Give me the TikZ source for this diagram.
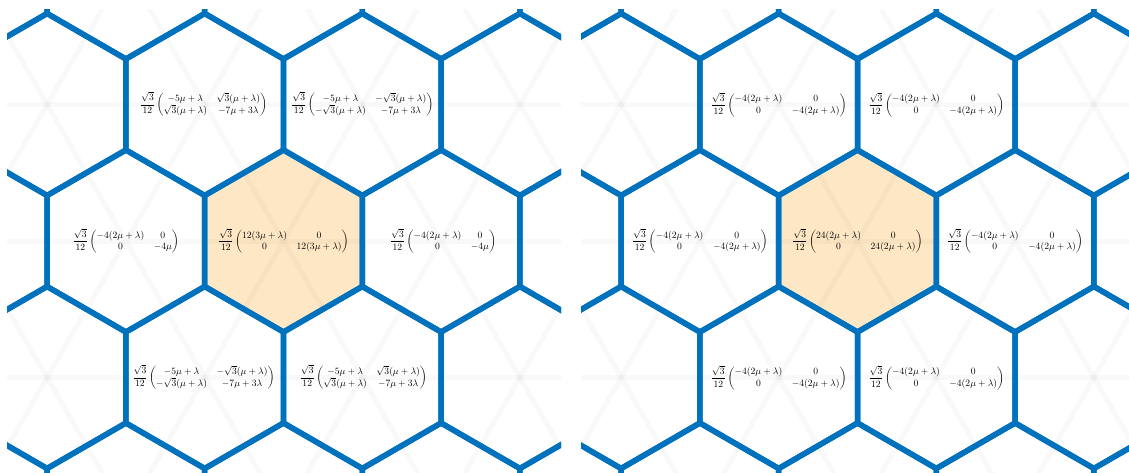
\documentclass[tikz,border=0pt]{standalone}
\usepackage{amsmath}
\definecolor{hexblue}{RGB}{0,114,189}
\definecolor{hexfill}{RGB}{253,231,196}
\newcommand{\Pre}{\dfrac{\sqrt{3}}{12}}
\newcommand{\DrawPanel}[1]{%
\begin{scope}[xshift=#1pt]
\clip (7,10) rectangle (561,480);
\fill[hexfill] (283.5,241) +(30:91) -- +(90:91) -- +(150:91) -- +(210:91) -- +(270:91) -- +(330:91) -- cycle;
\foreach \k in {-2,...,2}{\draw[faint] (0,241+136.5*\k) -- (570,241+136.5*\k);}
\foreach \i in {-4,...,4}{\draw[faint] (283.5+157.6*\i,241) +(-236.4,-409.5) -- +(236.4,409.5) +(236.4,-409.5) -- +(-236.4,409.5);}
\foreach \j in {-2,...,2}{\foreach \i in {-3,...,3}{%
  \pgfmathsetmacro\hx{283.5+157.6*\i+78.8*mod(abs(\j),2)}%
  \pgfmathsetmacro\hy{241+136.5*\j}%
  \draw[hexedge] (\hx,\hy) +(30:91) -- +(90:91) -- +(150:91) -- +(210:91) -- +(270:91) -- +(330:91) -- cycle;
}}
\end{scope}}
\begin{document}
\begin{tikzpicture}[x=1pt,y=-1pt,
  hexedge/.style={draw=hexblue,line width=5.5pt,line join=miter},
  faint/.style={draw=black,opacity=0.022,line width=5pt},
  lbl/.style={inner sep=0pt,scale=0.96}]
\useasboundingbox (0,0) rectangle (1129,473);
\DrawPanel{0}
\DrawPanel{574}
% left panel labels
\node[lbl] (Lc) at (283.5,241) {$\Pre\begin{pmatrix}12(3\mu+\lambda)&0\\0&12(3\mu+\lambda)\end{pmatrix}$};
\node[lbl] (Ll) at (125.9,241) {$\Pre\begin{pmatrix}-4(2\mu+\lambda)&0\\0&-4\mu\end{pmatrix}$};
\node[lbl] (Lr) at (443,241) {$\Pre\begin{pmatrix}-4(2\mu+\lambda)&0\\0&-4\mu\end{pmatrix}$};
\node[lbl] (Ltl) at (203.5,104.5) {$\Pre\begin{pmatrix}-5\mu+\lambda&\sqrt{3}(\mu+\lambda)\\\sqrt{3}(\mu+\lambda)&-7\mu+3\lambda\end{pmatrix}$};
\node[lbl] (Ltr) at (362.3,104.5) {$\Pre\begin{pmatrix}-5\mu+\lambda&-\sqrt{3}(\mu+\lambda)\\-\sqrt{3}(\mu+\lambda)&-7\mu+3\lambda\end{pmatrix}$};
\node[lbl] (Lbl) at (203.5,377.5) {$\Pre\begin{pmatrix}-5\mu+\lambda&-\sqrt{3}(\mu+\lambda)\\-\sqrt{3}(\mu+\lambda)&-7\mu+3\lambda\end{pmatrix}$};
\node[lbl] (Lbr) at (363.3,377.5) {$\Pre\begin{pmatrix}-5\mu+\lambda&\sqrt{3}(\mu+\lambda)\\\sqrt{3}(\mu+\lambda)&-7\mu+3\lambda\end{pmatrix}$};
% right panel labels
\begin{scope}[xshift=574pt]
\node[lbl] (Rc) at (283.5,241) {$\Pre\begin{pmatrix}24(2\mu+\lambda)&0\\0&24(2\mu+\lambda)\end{pmatrix}$};
\node[lbl] (Rl) at (125.9,241) {$\Pre\begin{pmatrix}-4(2\mu+\lambda)&0\\0&-4(2\mu+\lambda)\end{pmatrix}$};
\node[lbl] (Rr) at (441.1,241) {$\Pre\begin{pmatrix}-4(2\mu+\lambda)&0\\0&-4(2\mu+\lambda)\end{pmatrix}$};
\node[lbl] (Rtl) at (204.7,104.5) {$\Pre\begin{pmatrix}-4(2\mu+\lambda)&0\\0&-4(2\mu+\lambda)\end{pmatrix}$};
\node[lbl] (Rtr) at (362.3,104.5) {$\Pre\begin{pmatrix}-4(2\mu+\lambda)&0\\0&-4(2\mu+\lambda)\end{pmatrix}$};
\node[lbl] (Rbl) at (204.7,377.5) {$\Pre\begin{pmatrix}-4(2\mu+\lambda)&0\\0&-4(2\mu+\lambda)\end{pmatrix}$};
\node[lbl] (Rbr) at (362.3,377.5) {$\Pre\begin{pmatrix}-4(2\mu+\lambda)&0\\0&-4(2\mu+\lambda)\end{pmatrix}$};
\end{scope}
\end{tikzpicture}
\end{document}
